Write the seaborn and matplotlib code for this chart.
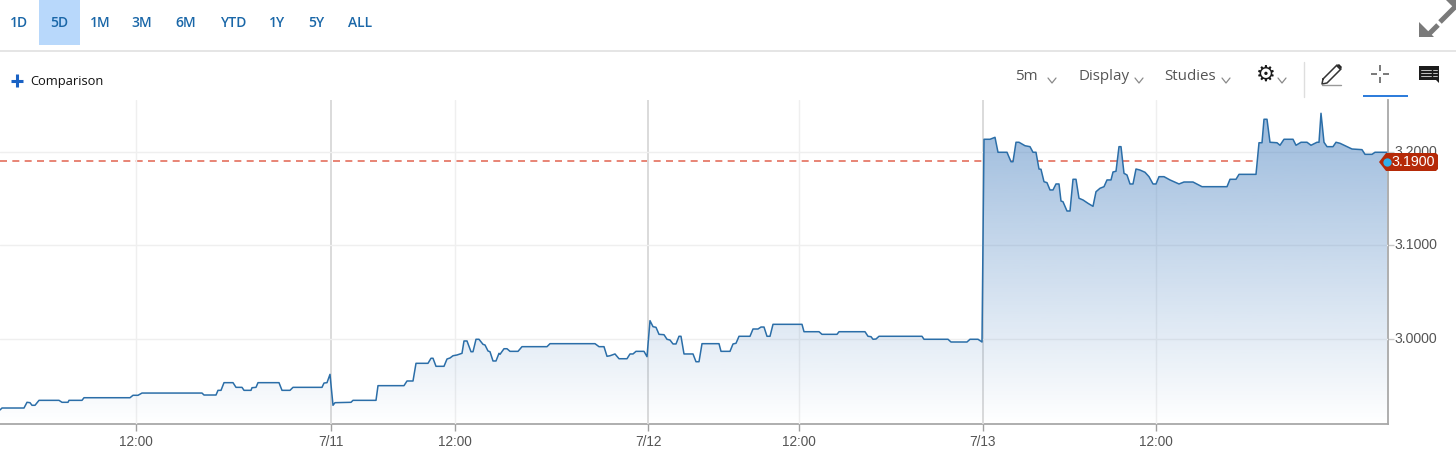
import numpy as np
import pandas as pd
import matplotlib
matplotlib.use("Agg")
import matplotlib.pyplot as plt
from matplotlib.patches import Polygon, Rectangle
import seaborn as sns

range_labels = ["1D", "5D", "1M", "3M", "6M", "YTD", "1Y", "5Y", "ALL"]
tick_slots = [136, 331, 455, 648, 799, 983, 1156]
tick_labels = ["12:00", "7/11", "12:00", "7/12", "12:00", "7/13", "12:00"]
date_slots = [331, 648, 983]
price_ticks = [3.0, 3.1, 3.2]
last_price = 3.19

# 5-minute session position along the (non-uniform) time axis
slot_a = [0,2,24,27,30,32,35,39,59,62,68,69,82,84,130,133,138,142,202,204,216,218,221,224,233,236,242,244,251,252,256,258,279,282,290,293,322,324,327,330]
price_a = [2.9241,2.9262,2.9262,2.9323,2.9319,2.9291,2.9291,2.9344,2.9344,2.9323,2.9323,2.9344,2.9344,2.9372,2.9372,2.9398,2.9398,2.9422,2.9422,2.9401,2.9401,2.9451,2.9451,2.9533,2.9533,2.9483,2.9483,2.9451,2.9451,2.9479,2.9483,2.9533,2.9533,2.9451,2.9451,2.9483,2.9483,2.9529,2.9533,2.9622]

slot_b = [333,335,351,353,376,378,404,407,413,416,428,431,433,436,444,447,450,453,457,462,464,467,471,473,476,479,483,485,488,490,493,496,499,500,504,507,510,518,522,547,550,595,599,604,607,610,615,619,627,630,633,636,644,647]
price_b = [2.9291,2.9319,2.9323,2.9344,2.9344,2.9501,2.9501,2.9551,2.9551,2.9740,2.9740,2.9794,2.9794,2.9708,2.9708,2.9786,2.9797,2.9821,2.9829,2.9847,2.9979,2.9979,2.9864,2.9864,2.9997,2.9997,2.9943,2.9936,2.9872,2.9864,2.9765,2.9765,2.9847,2.9836,2.9896,2.9896,2.9868,2.9868,2.9918,2.9918,2.9950,2.9950,2.9918,2.9918,2.9815,2.9821,2.9840,2.9789,2.9789,2.9840,2.9840,2.9868,2.9868,2.9811]

slot_c = [650,653,656,659,664,667,670,673,676,679,681,684,693,696,699,702,719,721,730,733,736,739,750,753,758,761,764,767,770,773,802,804,819,822,837,839,865,868,871,873,876,879,922,924,948,951,967,970,978,982]
price_c = [3.0196,3.0132,3.0125,3.0050,3.0046,2.9997,2.9989,2.9947,2.9947,3.0029,3.0029,2.9840,2.9840,2.9757,2.9757,2.9950,2.9950,2.9868,2.9868,2.9947,2.9954,3.0029,3.0029,3.0107,3.0107,3.0128,3.0128,3.0029,3.0029,3.0157,3.0157,3.0078,3.0078,3.0050,3.0050,3.0078,3.0078,3.0029,3.0025,2.9997,3.0000,3.0029,3.0029,2.9997,2.9997,2.9968,2.9968,2.9997,2.9997,2.9968]

slot_d = [984,990,995,998,1007,1011,1013,1016,1019,1025,1030,1033,1036,1039,1041,1044,1047,1050,1053,1056,1059,1061,1063,1067,1070,1073,1076,1079,1083,1088,1093,1096,1100,1104,1107,1111,1113,1116,1119,1121,1124,1127,1130,1133,1136,1140,1145,1149,1153,1156,1159,1164,1170,1179,1184,1193,1202,1227,1230,1236,1239,1256]
price_d = [3.2136,3.2136,3.2157,3.1997,3.1997,3.1896,3.1896,3.2104,3.2104,3.2067,3.2057,3.1997,3.1997,3.1818,3.1815,3.1682,3.1672,3.1594,3.1594,3.1658,3.1658,3.1476,3.1468,3.1369,3.1369,3.1708,3.1708,3.1505,3.1487,3.1451,3.1419,3.1575,3.1612,3.1629,3.1701,3.1701,3.1786,3.1794,3.2057,3.2057,3.1772,3.1754,3.1658,3.1658,3.1818,3.1807,3.1783,3.1736,3.1658,3.1658,3.1736,3.1736,3.1701,3.1658,3.1679,3.1679,3.1629,3.1629,3.1708,3.1708,3.1761,3.1761]

slot_e = [1259,1262,1264,1267,1270,1277,1280,1284,1293,1296,1301,1307,1311,1317,1319,1321,1324,1327,1333,1336,1340,1352,1362,1365,1372,1375,1387]
price_e = [3.2099,3.2099,3.2350,3.2350,3.2104,3.2099,3.2072,3.2136,3.2136,3.2072,3.2104,3.2104,3.2072,3.2104,3.2104,3.2414,3.2104,3.2057,3.2057,3.2104,3.2093,3.2032,3.2025,3.1975,3.1975,3.1997,3.1997]

df = pd.DataFrame({"slot": slot_a + slot_b + slot_c + slot_d + slot_e,
                   "price": price_a + price_b + price_c + price_d + price_e})

W, H = 1456, 457
sns.set_theme(style="white")
plt.rcParams["font.family"] = ["Liberation Sans", "DejaVu Sans"]
fig = plt.figure(figsize=(W / 100, H / 100), dpi=100, facecolor="white")

# plot area: px x 0..1388, y 100..424
ax = fig.add_axes([0, (H - 424) / H, 1388 / W, 324 / H])
XMAX, YMIN, YMAX = 1388, 2.9091, 3.2556
ax.set_xlim(0, XMAX)
ax.set_ylim(YMIN, YMAX)

ax.axhline(last_price, color="#e4705e", lw=1.2, dashes=(4.2, 3.2), zorder=1)

poly = np.column_stack([df["slot"], df["price"]])
poly = np.vstack([[0, YMIN], poly, [df["slot"].iloc[-1], YMIN]])
ax.add_patch(Polygon(poly, closed=True, fc="white", ec="none", zorder=2))

for s in tick_slots:
    ax.axvline(s, color="#dadada" if s in date_slots else "#efefef",
               lw=1.4 if s in date_slots else 1.0, zorder=3)
for p in price_ticks:
    ax.axhline(p, color="#efefef", lw=1.0, zorder=3)

grad = np.zeros((256, 1, 4))
grad[..., 0] = 78 / 255
grad[..., 1] = 133 / 255
grad[..., 2] = 194 / 255
grad[..., 3] = np.linspace(0.58, 0.0, 256)[:, None]
im = ax.imshow(grad, extent=(0, XMAX, YMIN, 3.25), origin="upper", aspect="auto", zorder=4)
clip = Polygon(poly, closed=True, transform=ax.transData)
im.set_clip_path(clip)

sns.lineplot(data=df, x="slot", y="price", ax=ax, color="#2b6ea8", lw=1.1,
             errorbar=None, zorder=5)
ax.set_xlim(0, XMAX)
ax.set_ylim(YMIN, YMAX)
ax.set_xlabel("")
ax.set_ylabel("")

ax.set_xticks(tick_slots)
ax.set_xticklabels(tick_labels, fontsize=9.8, color="#555555")
ax.yaxis.tick_right()
ax.set_yticks(price_ticks)
ax.set_yticklabels([f"{p:.4f}" for p in price_ticks], fontsize=10.2, color="#555555")
ax.tick_params(axis="x", length=5, width=1, color="#a0a0a0", pad=3, bottom=True)
ax.tick_params(axis="y", length=4, width=1, color="#c8c8c8", pad=1, right=True, left=False)
for label in ax.get_yticklabels():
    label.set_verticalalignment("center")
for name in ["top", "left"]:
    ax.spines[name].set_visible(False)
for name in ["bottom", "right"]:
    ax.spines[name].set_visible(True)
    ax.spines[name].set_color("#a8a8a8")
    ax.spines[name].set_linewidth(1.3)

# interface chrome, in a full-figure overlay measured in pixels from the top-left
ui = fig.add_axes([0, 0, 1, 1], facecolor="none")
ui.set_xlim(0, W)
ui.set_ylim(H, 0)
ui.axis("off")

ui.add_patch(Rectangle((39, 0), 41, 45, fc="#b8d8fb", ec="none"))
ui.plot([0, W], [50.5, 50.5], color="#e3e3e3", lw=1.3)
range_x = [19, 59, 100, 142, 186, 233, 277, 316, 360]
for label, x in zip(range_labels, range_x):
    ui.text(x, 23, label, ha="center", va="center", fontsize=10, fontweight="semibold",
            family="Open Sans", color="#1a67a8")

ui.plot([17, 17], [74, 87], color="#1a62c4", lw=2.2, solid_capstyle="butt")
ui.plot([11, 23], [80.5, 80.5], color="#1a62c4", lw=2.2, solid_capstyle="butt")
ui.text(30, 81.5, "Comparison", ha="left", va="center", fontsize=9.3, family="Open Sans", color="#111111")

for label, x in [("5m", 1015), ("Display", 1078), ("Studies", 1164)]:
    ui.text(x, 77, label, ha="left", va="center", fontsize=10.9, family="Open Sans", color="#555555")
for cx in [1052, 1139, 1226, 1282]:
    ui.plot([cx - 4, cx, cx + 4], [78, 83, 78], color="#8a8a8a", lw=0.9)
ui.text(1266, 75, "\u2699", ha="center", va="center", fontsize=16, family="DejaVu Sans", color="#1a1a1a")
ui.plot([1303.5, 1303.5], [62, 97], color="#dedede", lw=1)

# pencil
ui.plot([1323, 1337, 1341, 1327, 1322, 1323], [79, 65, 69, 83, 84, 79], color="#333333", lw=1.1)
ui.add_patch(Polygon([[1336, 66], [1339, 64], [1342, 67], [1340, 70]], fc="#222222", ec="none"))
ui.plot([1322, 1341], [84.5, 84.5], color="#999999", lw=1)
# crosshair
for xs, ys in [([1371, 1377], [74, 74]), ([1383, 1389], [74, 74]), ([1380, 1380], [65, 71]), ([1380, 1380], [77, 83])]:
    ui.plot(xs, ys, color="#555555", lw=1.1, solid_capstyle="butt")
ui.add_patch(Rectangle((1363, 94.5), 45, 2.6, fc="#2f7ddb", ec="none"))
# comment icon
ui.add_patch(Polygon([[1419, 66], [1439, 66], [1439, 83], [1436, 80], [1419, 80]], fc="#1c1c1c", ec="none"))
for yy in [70, 73, 76]:
    ui.plot([1421, 1431], [yy, yy], color="#dddddd", lw=0.6)
    ui.plot([1433, 1437], [yy, yy], color="#dddddd", lw=0.6)
# expand arrows
ui.plot([1428, 1438], [35, 25], color="#7a7a7a", lw=3.6, solid_capstyle="butt")
ui.add_patch(Polygon([[1419, 37], [1419, 22], [1434, 37]], fc="#7a7a7a", ec="none"))
ui.plot([1440, 1456], [22, 6], color="#7a7a7a", lw=3.6, solid_capstyle="butt")
ui.add_patch(Polygon([[1446, 0], [1456, 0], [1456, 10]], fc="#7a7a7a", ec="none"))

# last-price flag
ui.add_patch(Polygon([[1379, 162], [1386, 153], [1436, 153], [1438, 155], [1438, 169], [1436, 171], [1386, 171]],
                     fc="#b52a08", ec="none", zorder=6))
ui.plot([1387], [162], marker="o", ms=6, color="#2fb0ea", mec="none", zorder=7)
ui.text(1413.5, 162.5, "3.1900", ha="center", va="center", fontsize=10.3, color="white", zorder=7)

fig.savefig("out.png", dpi=100)
